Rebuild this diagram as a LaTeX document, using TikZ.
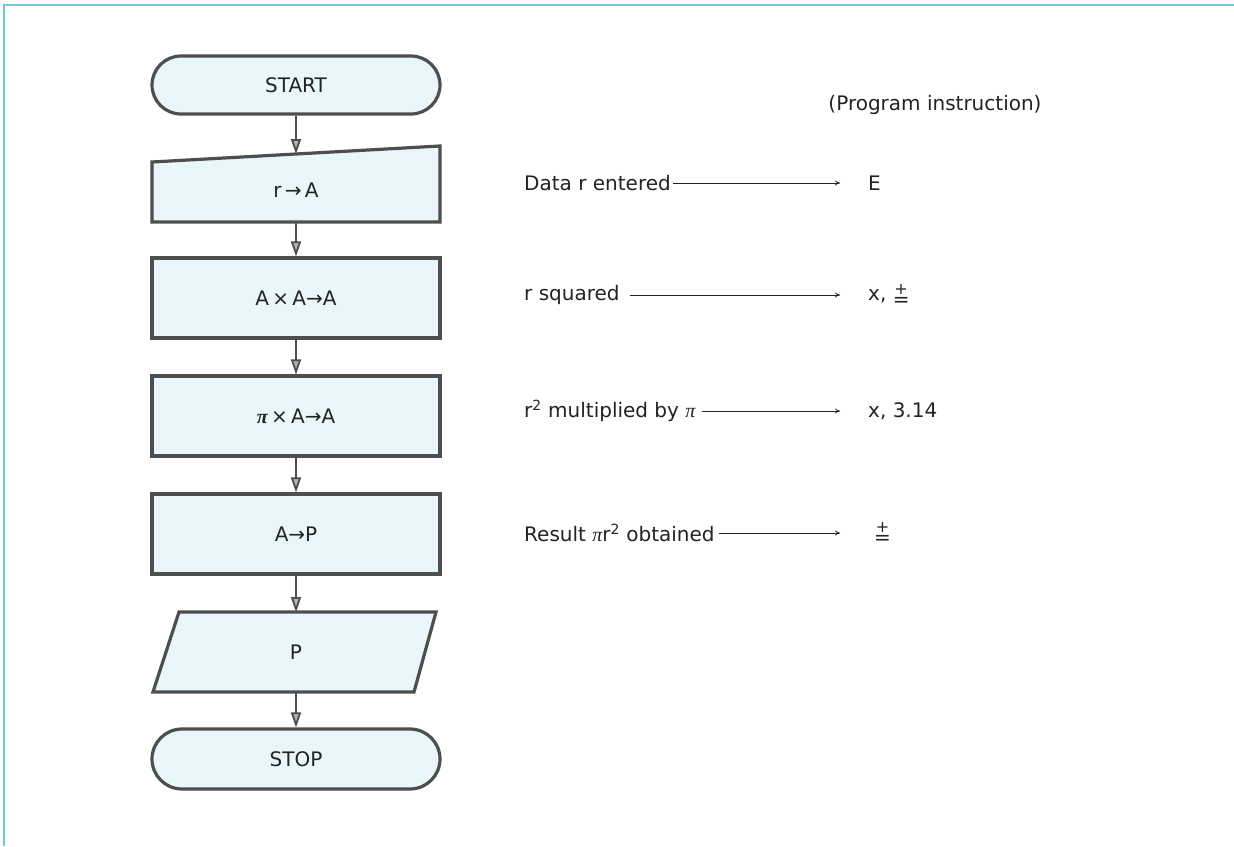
\documentclass[tikz,border=0pt]{standalone}
\usepackage{fontspec}
\setmainfont{DejaVu Sans}
\newfontfamily\serifpi{Liberation Serif}
\usetikzlibrary{arrows.meta}
\definecolor{cyanline}{RGB}{110,200,215}
\definecolor{boxfill}{RGB}{233,247,250}
\definecolor{boxline}{RGB}{78,78,78}
\definecolor{ink}{RGB}{35,35,35}
\newcommand{\pluseq}{\ooalign{\hfil\raisebox{6pt}{\fontsize{16}{16}\selectfont +}\hfil\cr\raisebox{-6pt}{=}\cr}}
\newcommand{\itpi}{{\serifpi\itshape π}}
\newcommand{\bfpi}{{\serifpi\bfseries\itshape π}}
\begin{document}
\begin{tikzpicture}[x=1pt,y=-1pt,
  font=\fontsize{20}{24}\selectfont, text=ink,
  shapebox/.style={draw=boxline, line width=3.2pt, fill=boxfill},
  proc/.style={shapebox, minimum width=288pt, minimum height=80pt, inner sep=0pt},
  term/.style={shapebox, rounded corners=29pt, minimum width=288pt, minimum height=58pt, inner sep=0pt},
  lbl/.style={inner sep=0pt},
  flow/.style={draw=boxline, line width=1.8pt, -{Triangle[width=10pt,length=15pt,fill=gray!60]}},
  rtext/.style={anchor=west, inner sep=2pt},
  pointer/.style={draw=ink, line width=0.8pt, -{To[length=5pt,width=5pt]}}
]
\useasboundingbox (0,0) rectangle (1234,846);
\fill[white] (0,0) rectangle (1234,846);
\draw[cyanline, line width=2pt] (4,846) -- (4,5) -- (1234,5);

% flowchart
\node[term] (start) at (296,85) {START};

\filldraw[shapebox] (152,162) -- (440,146) -- (440,222) -- (152,222) -- cycle;
\node[lbl] (input) at (296,190) {r\,→\,A};
\coordinate (inTop) at (296,154);
\coordinate (inBot) at (296,222);

\node[proc] (sq) at (296,298) {A\,×\,A→A};
\node[proc] (mul) at (296,416) {\bfpi\,×\,A→A};
\node[proc] (res) at (296,534) {A→P};

\filldraw[shapebox] (179,612) -- (436,612) -- (414,692) -- (153,692) -- cycle;
\node[lbl] (out) at (296,652) {P};
\coordinate (outTop) at (296,612);
\coordinate (outBot) at (296,692);

\node[term, minimum height=60pt, rounded corners=30pt] (stop) at (296,759) {STOP};

\draw[flow] (start.south) -- (inTop);
\draw[flow] (inBot) -- (sq.north);
\draw[flow] (sq.south) -- (mul.north);
\draw[flow] (mul.south) -- (res.north);
\draw[flow] (res.south) -- (outTop);
\draw[flow] (outBot) -- (stop.north);

% right column
\node[inner sep=0pt] (head) at (935,105) {(Program instruction)};

\node[rtext] (t1) at (522,183) {Data r entered};
\node[rtext] (k1) at (866,183) {E};
\draw[pointer, shorten >=26pt] (t1.east) -- (k1.west);

\node[rtext] (t2) at (522,295) {r squared};
\node[rtext] (k2) at (866,295) {x, \pluseq};
\draw[pointer, shorten <=8pt, shorten >=26pt] (t2.east) -- (k2.west);

\node[rtext] (t3) at (522,411) {r\textsuperscript{2} multiplied by \itpi};
\node[rtext] (k3) at (866,411) {x, 3.14};
\draw[pointer, shorten <=4pt, shorten >=26pt] (t3.east) -- (k3.west);

\node[rtext] (t4) at (522,533) {Result \itpi r\textsuperscript{2} obtained};
\node[rtext] (k4) at (872,533) {\pluseq};
\draw[pointer, shorten <=2pt, shorten >=32pt] (t4.east) -- (k4.west);
\end{tikzpicture}
\end{document}
